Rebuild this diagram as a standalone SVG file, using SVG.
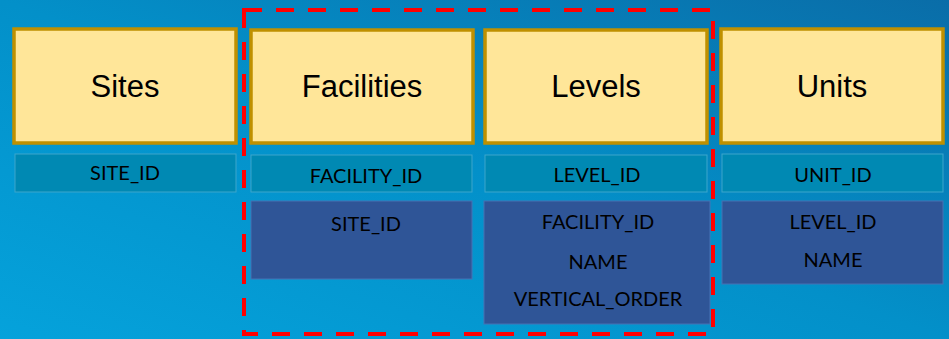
<svg xmlns="http://www.w3.org/2000/svg" width="949" height="339" viewBox="0 0 949 339">
<defs>
<linearGradient id="bg" x1="0" y1="1" x2="1" y2="0">
<stop offset="0" stop-color="#05A2DB"/>
<stop offset="0.5" stop-color="#0390C9"/>
<stop offset="1" stop-color="#0A6DA8"/>
</linearGradient>
<style>
.hdr{fill:#FFE699;stroke:#BF9000;stroke-width:3.5}
.ht{font-family:"Liberation Sans",Arial,sans-serif;font-size:31px;fill:#000;text-anchor:middle}
.pk{fill:#0089B3;stroke:#3CA6CC;stroke-width:1}
.fk{fill:#2F5597;stroke:#4672B4;stroke-width:1}
.ft{font-family:Lato,"Open Sans",sans-serif;font-size:20px;fill:#000;text-anchor:middle}
.sel{fill:none;stroke:#FF0000;stroke-width:4;stroke-dasharray:18 14}
</style>
</defs>
<rect x="0" y="0" width="949" height="339" fill="url(#bg)"/>
<g id="sites">
<rect class="hdr" x="14" y="29" width="222" height="114"/>
<text class="ht" x="125" y="97">Sites</text>
<rect class="pk" x="15" y="154" width="221" height="38"/>
<text class="ft" x="125" y="180">SITE_ID</text>
</g>
<g id="facilities">
<rect class="hdr" x="251" y="30" width="222" height="113"/>
<text class="ht" x="362" y="97">Facilities</text>
<rect class="pk" x="251" y="155" width="221" height="37"/>
<text class="ft" x="366" y="183">FACILITY_ID</text>
<rect class="fk" x="251" y="201" width="221" height="78"/>
<text class="ft" x="366" y="231">SITE_ID</text>
</g>
<g id="levels">
<rect class="hdr" x="485" y="30" width="222" height="113"/>
<text class="ht" x="596" y="97">Levels</text>
<rect class="pk" x="485" y="155" width="222" height="37"/>
<text class="ft" x="597" y="182">LEVEL_ID</text>
<rect class="fk" x="484" y="201" width="226" height="123"/>
<text class="ft" x="598" y="229">FACILITY_ID</text>
<text class="ft" x="598" y="269">NAME</text>
<text class="ft" x="598" y="306">VERTICAL_ORDER</text>
</g>
<g id="units">
<rect class="hdr" x="721" y="29" width="222" height="114"/>
<text class="ht" x="832" y="97">Units</text>
<rect class="pk" x="722" y="154" width="221" height="38"/>
<text class="ft" x="833" y="182">UNIT_ID</text>
<rect class="fk" x="722" y="201" width="221" height="83"/>
<text class="ft" x="833" y="229">LEVEL_ID</text>
<text class="ft" x="833" y="267">NAME</text>
</g>
<g id="connectors">
<rect id="selection" class="sel" x="244" y="10" width="469" height="324"/>
</g>
</svg>
